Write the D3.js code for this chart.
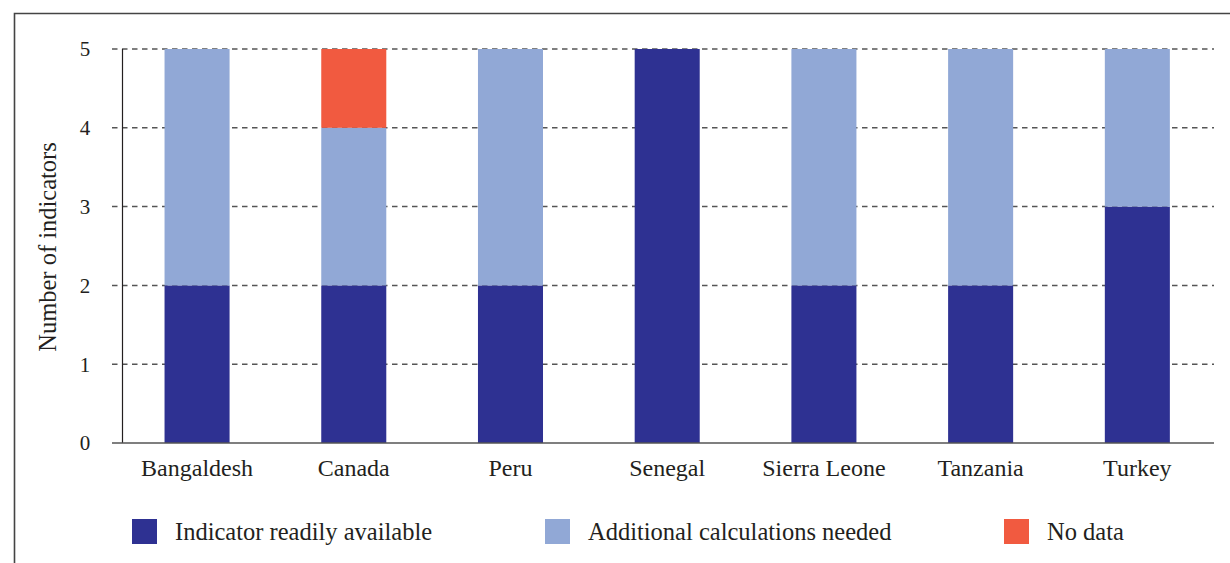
<!DOCTYPE html>
<html>
<head>
<meta charset="utf-8">
<script src="https://cdn.jsdelivr.net/npm/d3@7"></script>
<style>
  body { margin: 0; background: #fff; }
  text { font-family: "Liberation Serif", "DejaVu Serif", serif; fill: #231f20; }
</style>
</head>
<body>
<div class="chart"></div>
<script>
// Data
var countries = ["Bangaldesh", "Canada", "Peru", "Senegal", "Sierra Leone", "Tanzania", "Turkey"];
var readilyAvailable = [2, 2, 2, 5, 2, 2, 3];
var additionalCalc = [3, 2, 3, 0, 3, 3, 2];
var noData = [0, 1, 0, 0, 0, 0, 0];
var seriesNames = ["Indicator readily available", "Additional calculations needed", "No data"];
var seriesColors = ["#2e3192", "#91a8d6", "#f15a40"];
var yTicks = [0, 1, 2, 3, 4, 5];

var svgWidth = 1230;
var svgHeight = 563;

var svg = d3.select(".chart")
  .append("svg")
  .attr("width", svgWidth)
  .attr("height", svgHeight);

// outer frame (top and left edges visible)
svg.append("path")
  .attr("d", "M14.5,563 L14.5,13.5 L1230,13.5")
  .attr("fill", "none")
  .attr("stroke", "#444")
  .attr("stroke-width", 1.6);

var x = d3.scaleBand()
  .domain(countries)
  .range([118.7, 1215.7])
  .paddingInner(0.585)
  .paddingOuter(0.2925);

var y = d3.scaleLinear()
  .domain([0, 5])
  .range([443, 49]);

// Gridlines
svg.append("g")
  .selectAll("line")
  .data(yTicks.filter(d => d > 0))
  .enter()
  .append("line")
  .attr("x1", 112)
  .attr("x2", 1214)
  .attr("y1", d => y(d))
  .attr("y2", d => y(d))
  .attr("stroke", "#555")
  .attr("stroke-width", 1.5)
  .attr("stroke-dasharray", "5.5,4.5");

// Stack
var table = countries.map(function (c, i) {
  return { country: c, s0: readilyAvailable[i], s1: additionalCalc[i], s2: noData[i] };
});
var stack = d3.stack().keys(["s0", "s1", "s2"]);
var layers = stack(table);

svg.append("g")
  .selectAll("g")
  .data(layers)
  .enter()
  .append("g")
  .attr("fill", (d, i) => seriesColors[i])
  .selectAll("rect")
  .data(d => d.filter(p => p[1] > p[0]))
  .enter()
  .append("rect")
  .attr("x", d => x(d.data.country))
  .attr("width", x.bandwidth())
  .attr("y", d => y(d[1]))
  .attr("height", d => y(d[0]) - y(d[1]));

// Axes lines
svg.append("line")
  .attr("x1", 122.5).attr("x2", 122.5)
  .attr("y1", 49).attr("y2", 443)
  .attr("stroke", "#231f20")
  .attr("stroke-width", 1.2);

svg.append("line")
  .attr("x1", 112).attr("x2", 1214)
  .attr("y1", 443).attr("y2", 443)
  .attr("stroke", "#555")
  .attr("stroke-width", 1.6);

// Y tick labels
svg.append("g")
  .selectAll("text")
  .data(yTicks)
  .enter()
  .append("text")
  .attr("x", 85)
  .attr("y", d => y(d))
  .attr("dy", "0.35em")
  .attr("text-anchor", "middle")
  .style("font-size", "21px")
  .text(d => d);

// X labels
svg.append("g")
  .selectAll("text")
  .data(countries)
  .enter()
  .append("text")
  .attr("x", d => x(d) + x.bandwidth() / 2)
  .attr("y", 476)
  .attr("text-anchor", "middle")
  .style("font-size", "24px")
  .text(d => d);

// Y axis title
svg.append("text")
  .attr("transform", "translate(56, 247) rotate(-90)")
  .attr("text-anchor", "middle")
  .style("font-size", "24.5px")
  .text("Number of indicators");

// Legend
var legendX = [132, 545, 1004];
var legend = svg.append("g")
  .selectAll("g")
  .data(seriesNames)
  .enter()
  .append("g")
  .attr("transform", (d, i) => `translate(${legendX[i]}, 519)`);

legend.append("rect")
  .attr("width", 25)
  .attr("height", 25)
  .attr("fill", (d, i) => seriesColors[i]);

legend.append("text")
  .attr("x", 43)
  .attr("y", 12.5)
  .attr("dy", "0.35em")
  .style("font-size", "24.5px")
  .text(d => d);
</script>
</body>
</html>
